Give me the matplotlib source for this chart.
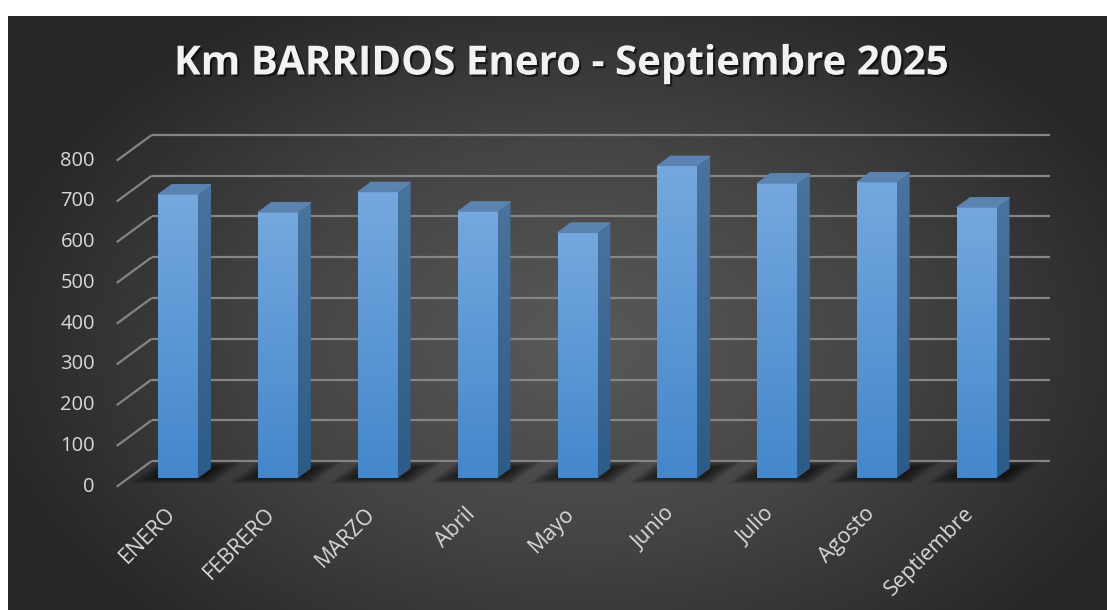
import numpy as np
import matplotlib
matplotlib.use("Agg")
import matplotlib.pyplot as plt
from matplotlib.patches import Rectangle, Polygon
from matplotlib import patheffects
from matplotlib.colors import LinearSegmentedColormap

# data
meses = ["ENERO", "FEBRERO", "MARZO", "Abril", "Mayo", "Junio", "Julio", "Agosto", "Septiembre"]
km = [697, 653, 703, 655, 603, 767, 724, 727, 665]
yticks = [0, 100, 200, 300, 400, 500, 600, 700, 800]
titulo = "Km BARRIDOS Enero - Septiembre 2025"

W, H = 1107, 610
plt.rcParams["font.family"] = ["Open Sans", "DejaVu Sans"]

fig = plt.figure(figsize=(W / 100, H / 100), dpi=100)
fig.patch.set_facecolor("white")

# background panel with radial gradient
bg = fig.add_axes([8 / W, 0, 1 - 8 / W, 594 / H])
bg.set_axis_off()
gx, gy = np.meshgrid(np.linspace(0, 1, 400), np.linspace(0, 1, 240))
r = np.sqrt(((gx - 0.52) / 0.75) ** 2 + ((gy - 0.45) / 0.9) ** 2)
r = np.clip(r / 0.75, 0, 1)
bgcmap = LinearSegmentedColormap.from_list("bg", ["#595959", "#444444", "#262626"])
bg.imshow(r, cmap=bgcmap, aspect="auto", extent=(0, 1, 0, 1), origin="lower")
bg.set_xlim(0, 1)
bg.set_ylim(0, 1)

# main plot plane (front face of the bars)
ax = fig.add_axes([128.1 / W, (H - 478.3) / H, 898.3 / W, 326 / H])
ax.set_axis_off()

px_x = 898.3 / 9          # pixels per category
px_y = 326 / 800          # pixels per km
DX, DY = 23.6 / px_x, 17.3 / px_y        # back wall offset
FX, FY = -11.4 / px_x, -8.4 / px_y       # front edge of side wall
BX, BY = 13.3 / px_x, 9.7 / px_y         # bar depth
bw = 0.395
slant = 35 / 25.7   # x px per y px along depth

grid_kw = dict(color="#858585", lw=1.6, clip_on=False, zorder=1, solid_capstyle="butt")
for v in yticks:
    ax.plot([-0.5 + DX, 8.5 + DX], [v + DY, v + DY], **grid_kw)
    ax.plot([-0.5 + FX, -0.5 + DX], [v + FY, v + DY], **grid_kw)
    ax.text(-0.5 + FX - 21.7 / px_x, v + FY, str(v), ha="right", va="center",
            fontsize=14.5, color="#d9d9d9")

front_cmap = LinearSegmentedColormap.from_list("front", ["#4487cb", "#74a8de"])
side_cmap = LinearSegmentedColormap.from_list("side", ["#2d5a86", "#4a739f"])
grad = np.linspace(0, 1, 100).reshape(-1, 1)

for i, (m, v) in enumerate(zip(meses, km)):
    left, right = i - bw / 2, i + bw / 2
    # soft floor shadow (blurred parallelogram on the floor)
    cx, cy = i + 8 / px_x, 6 / px_y
    for k in range(12):
        s = 1 - k / 12
        hw = (18 + 24 * s) / px_x
        hh = 3 + 8 * s
        sx = hh * slant / px_x
        ax.add_patch(Polygon([(cx - hw - sx, cy - hh / px_y), (cx + hw - sx, cy - hh / px_y),
                              (cx + hw + sx, cy + hh / px_y), (cx - hw + sx, cy + hh / px_y)],
                             closed=True, facecolor="black", alpha=0.08, lw=0,
                             zorder=2, clip_on=False))
    # front face
    rect = Rectangle((left, 0), bw, v, facecolor="none", edgecolor="none", zorder=4)
    ax.add_patch(rect)
    im = ax.imshow(grad, cmap=front_cmap, aspect="auto", origin="lower",
                   extent=(left, right, 0, v), zorder=4)
    im.set_clip_path(rect)
    # side face
    side = Polygon([(right, 0), (right + BX, BY), (right + BX, v + BY), (right, v)],
                   closed=True, facecolor="none", edgecolor="none", zorder=3)
    ax.add_patch(side)
    im2 = ax.imshow(grad, cmap=side_cmap, aspect="auto", origin="lower",
                    extent=(right, right + BX, 0, v + BY), zorder=3)
    im2.set_clip_path(side)
    # top face
    ax.add_patch(Polygon([(left, v), (right, v), (right + BX, v + BY), (left + BX, v + BY)],
                         closed=True, facecolor="#5a83b1", edgecolor="#5f88b5", lw=0.6,
                         zorder=5, clip_on=False))
    # category label
    ax.text(i - 0.13, -25 / px_y, m, rotation=45, ha="right", va="top",
            rotation_mode="anchor", fontsize=15.5, color="#d9d9d9")

ax.set_xlim(-0.5, 8.5)
ax.set_ylim(0, 800)

fig.text(561 / W, 1 - 64 / H, titulo, ha="center", va="center", fontsize=29,
         fontweight="bold", color="#f2f2f2",
         path_effects=[patheffects.withSimplePatchShadow(offset=(1.5, -1.5),
                                                         shadow_rgbFace="black", alpha=0.6)])

fig.savefig("out.png", dpi=100, facecolor=fig.get_facecolor())
